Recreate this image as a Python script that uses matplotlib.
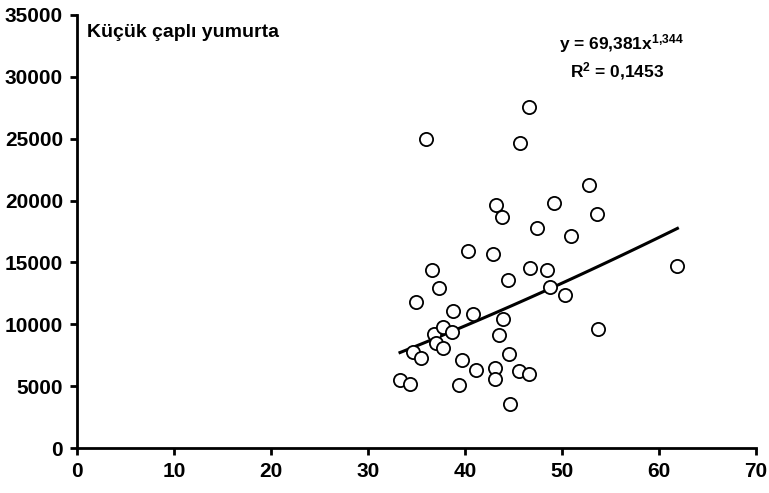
import numpy as np
import matplotlib
matplotlib.use("Agg")
import matplotlib.pyplot as plt

plt.rcParams['font.family'] = ['Liberation Sans', 'DejaVu Sans']
plt.rcParams['mathtext.fontset'] = 'custom'
plt.rcParams['mathtext.rm'] = 'Liberation Sans:bold'
plt.rcParams['mathtext.it'] = 'Liberation Sans:bold'
plt.rcParams['mathtext.bf'] = 'Liberation Sans:bold'

# egg diameter vs fecundity, small egg group
cap = [33.3, 34.3, 34.6, 35.5, 34.9, 37.3, 38.8, 36.8, 37.7, 38.7,
       37.0, 37.7, 39.7, 41.1, 39.4, 40.8, 43.1, 43.1, 43.5, 43.9,
       44.5, 44.6, 45.6, 46.6, 44.4, 48.8, 46.6, 36.0, 45.7, 43.2,
       43.8, 47.4, 49.2, 40.3, 42.9, 36.6, 46.7, 48.5, 52.8, 53.6,
       50.9, 61.9, 50.3, 53.7]
yumurta = [5500, 5200, 7750, 7300, 11800, 12950, 11050, 9200, 9750, 9400,
           8500, 8050, 7100, 6300, 5100, 10850, 6450, 5550, 9150, 10400,
           7600, 3550, 6250, 6000, 13600, 13050, 27600, 24950, 24650, 19650,
           18650, 17800, 19800, 15900, 15700, 14350, 14550, 14400, 21250, 18900,
           17150, 14700, 12350, 9600]

a, b = 69.381, 1.344
r2 = 0.1453

fig = plt.figure(figsize=(7.69, 4.93), dpi=100)
ax = fig.add_axes([77/769, 45/493, 679/769, 433/493])

ax.plot(cap, yumurta, 'o', ms=9.5, mfc='white', mec='black', mew=1.3, zorder=3)

xs = np.linspace(min(cap), max(cap), 100)
ax.plot(xs, a * xs ** b, color='black', lw=2.2, zorder=2)

ax.set_xlim(0, 70)
ax.set_ylim(0, 35000)
ax.set_xticks(range(0, 71, 10))
ax.set_yticks(range(0, 35001, 5000))
for s in ['top', 'right']:
    ax.spines[s].set_visible(False)
for s in ['left', 'bottom']:
    ax.spines[s].set_linewidth(2)
ax.tick_params(direction='out', length=5, width=2, labelsize=15, pad=5)
for lab in ax.get_xticklabels() + ax.get_yticklabels():
    lab.set_fontweight('bold')

ax.text(0.015, 0.96, 'Küçük çaplı yumurta', transform=ax.transAxes,
        fontsize=14, fontweight='bold', va='center', ha='left')
ax.text(0.801, 0.935, 'y = 69,381x$^{1{,}344}$', transform=ax.transAxes,
        fontsize=12.5, fontweight='bold', ha='center', va='center')
ax.text(0.795, 0.871, 'R$^{2}$ = 0,' + str(r2)[2:], transform=ax.transAxes,
        fontsize=12.5, fontweight='bold', ha='center', va='center')

fig.savefig('out.png', dpi=100)
